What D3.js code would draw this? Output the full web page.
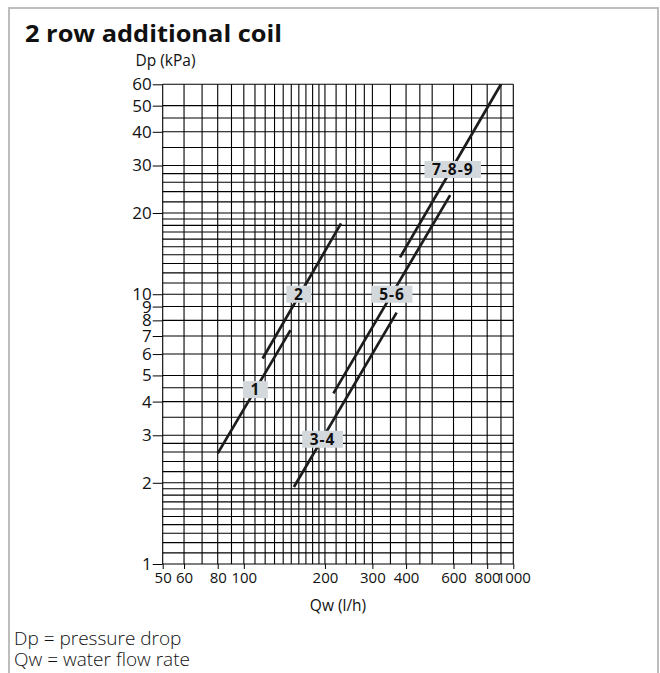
<!DOCTYPE html>
<html>
<head>
<meta charset="utf-8">
<script src="https://cdn.jsdelivr.net/npm/d3@7"></script>
<style>
  html, body { margin: 0; padding: 0; background: #fff; }
  svg { display: block; }
  text { font-family: "Open Sans", "Noto Sans", sans-serif; fill: #111; }
</style>
</head>
<body>
<svg id="chart" width="660" height="673"></svg>
<script>
// ---- data ----
const xTicks = [50, 60, 80, 100, 200, 300, 400, 600, 800, 1000];
const yTicks = [1, 2, 3, 4, 5, 6, 7, 8, 9, 10, 20, 30, 40, 50, 60];
const xGrid = [50, 60, 70, 80, 90, 100, 110, 120, 130, 140, 150, 160, 170, 180, 190, 200,
               220, 240, 260, 280, 300, 350, 400, 450, 500, 600, 700, 800, 900, 1000];
const yGrid = [1, 1.1, 1.2, 1.3, 1.4, 1.5, 1.6, 1.7, 1.8, 1.9, 2, 2.2, 2.4, 2.6, 2.8, 3, 3.5, 4, 4.5,
               5, 6, 7, 8, 9, 10, 11, 12, 13, 14, 15, 16, 17, 18, 19, 20, 22, 24, 26, 28, 30,
               35, 40, 45, 50, 60];
const curveNames = ["1", "2", "3-4", "5-6", "7-8-9"];
const curve1 = [[80, 2.57], [149, 7.36]];
const curve2 = [[117.4, 5.78], [229.5, 18.3]];
const curve34 = [[153.4, 1.93], [369, 8.55]];
const curve56 = [[215, 4.29], [583, 23.3]];
const curve789 = [[380, 13.7], [900, 60]];
const labelPos = [[110.4, 4.43], [160, 10], [196, 2.9], [355, 10], [596, 29]];

const svg = d3.select("#chart");

// frame
svg.append("path")
  .attr("d", "M9,680 L9,8 L658,8 L658,680")
  .attr("fill", "none").attr("stroke", "#bdbdbd").attr("stroke-width", 2);

// title
svg.append("text").attr("x", 25).attr("y", 41.5)
  .attr("font-size", 23.5).attr("font-weight", 700)
  .attr("textLength", 257).attr("lengthAdjust", "spacingAndGlyphs")
  .text("2 row additional coil");

const x = d3.scaleLog().domain([50, 1000]).range([162.7, 513.3]);
const y = d3.scaleLog().domain([1, 60]).range([564, 84.3]);

// grid
const g = svg.append("g");
g.selectAll(".vg").data(xGrid).join("line")
  .attr("x1", d => x(d)).attr("x2", d => x(d))
  .attr("y1", y(1)).attr("y2", y(60))
  .attr("stroke", "#000").attr("stroke-width", 1.1);
g.selectAll(".hg").data(yGrid).join("line")
  .attr("y1", d => y(d)).attr("y2", d => y(d))
  .attr("x1", x(50)).attr("x2", x(1000))
  .attr("stroke", "#000").attr("stroke-width", 1.1);

// axes
const yAxis = svg.append("g").attr("transform", `translate(${x(50)},0)`)
  .call(d3.axisLeft(y).tickValues(yTicks).tickFormat(d3.format("d")).tickSize(10).tickPadding(1));
yAxis.select(".domain").remove();
yAxis.selectAll("line").attr("stroke", "#000");
yAxis.selectAll("text").style("font-size", "17px").style("font-family", '"Open Sans", sans-serif').attr("fill", "#111");

const xAxis = svg.append("g").attr("transform", `translate(0,${y(1)})`)
  .call(d3.axisBottom(x).tickValues(xTicks).tickFormat(d3.format("d")).tickSize(5).tickPadding(3));
xAxis.select(".domain").remove();
xAxis.selectAll("line").attr("stroke", "#000");
xAxis.selectAll("text").style("font-size", "15px").style("font-family", '"Open Sans", sans-serif').attr("fill", "#111");

// axis titles
svg.append("text").attr("x", 135.5).attr("y", 66).attr("font-size", 15.5).text("Dp (kPa)");
svg.append("text").attr("x", 338).attr("y", 611).attr("font-size", 15.5)
  .attr("text-anchor", "middle").text("Qw (l/h)");

// curves
const line = d3.line().x(d => x(d[0])).y(d => y(d[1]));
const curves = [curve1, curve2, curve34, curve56, curve789];
svg.selectAll(".curve").data(curves).join("path")
  .attr("d", line).attr("fill", "none")
  .attr("stroke", "#1c1c1c").attr("stroke-width", 2.7);

// labels
curveNames.forEach((name, i) => {
  const [lx, ly] = labelPos[i];
  const lg = svg.append("g").attr("transform", `translate(${x(lx)},${y(ly)})`);
  const rect = lg.append("rect").attr("fill", "#d3d8dc");
  const t = lg.append("text").attr("text-anchor", "middle").attr("dy", "0.36em")
    .attr("font-size", 15.5).attr("font-weight", 700).attr("letter-spacing", 1)
    .attr("fill", "#2a2a2a").text(name);
  const bb = t.node().getBBox();
  const w = bb.width + 15, h = 17;
  rect.attr("x", -w / 2).attr("y", -h / 2).attr("width", w).attr("height", h);
});

// footnotes
svg.append("text").attr("x", 14).attr("y", 645).attr("font-size", 19).attr("font-weight", 300)
  .text("Dp = pressure drop");
svg.append("text").attr("x", 14).attr("y", 666).attr("font-size", 19).attr("font-weight", 300)
  .text("Qw = water flow rate");
</script>
</body>
</html>
